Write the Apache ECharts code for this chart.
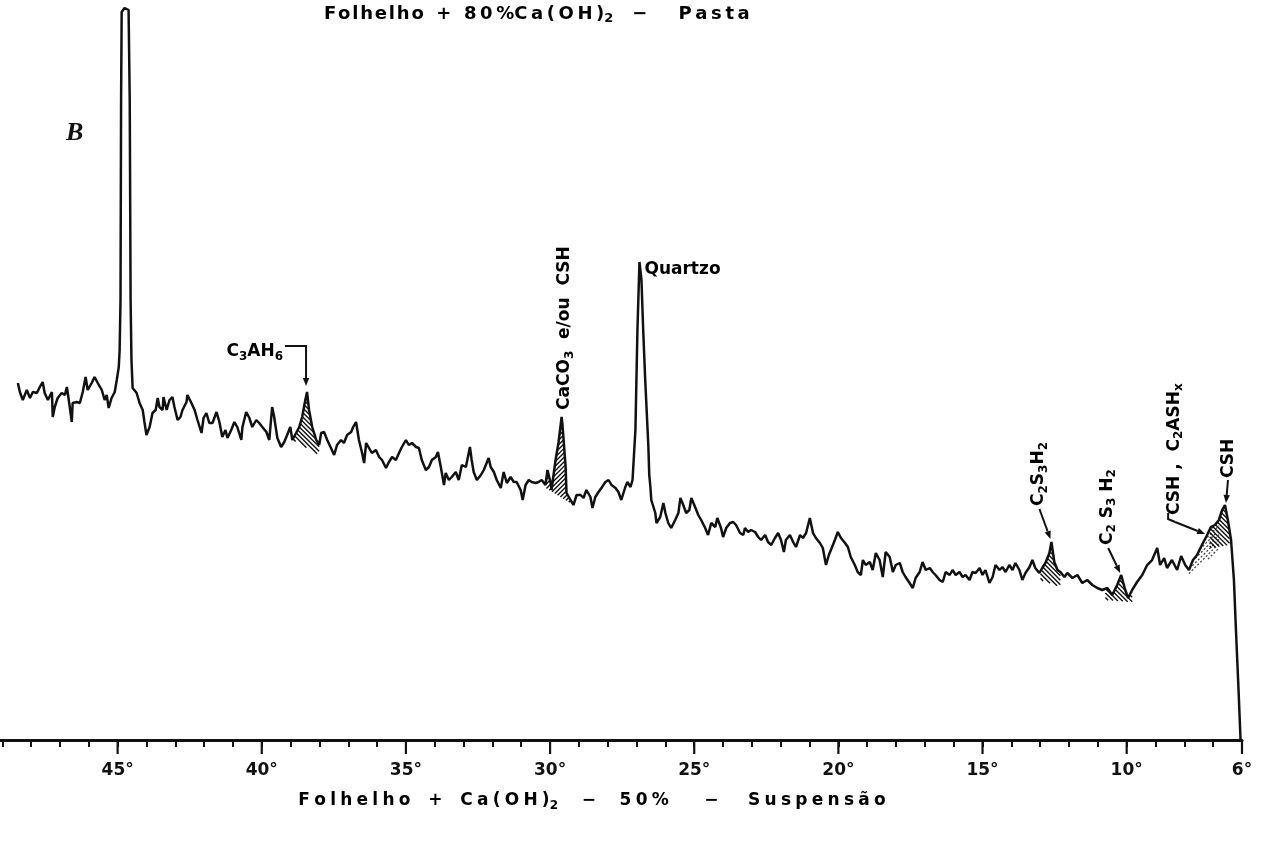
<!DOCTYPE html>
<html>
<head>
<meta charset="utf-8">
<script src="https://cdn.jsdelivr.net/npm/echarts@6/dist/echarts.min.js"></script>
<style>
  html, body { margin: 0; padding: 0; background: #fff; }
  #chart { width: 1267px; height: 844px; }
</style>
</head>
<body>
<div id="chart"></div>
<script>
// X-ray diffractogram, 2θ (degrees) against relative intensity (arbitrary units)
const twoTheta = [
  48.46,48.39,48.29,48.15,48.04,47.94,47.80,47.70,47.60,47.53,47.42,47.28,47.25,47.18,47.08,46.94,46.83,46.76,46.66,46.59,
  46.56,46.42,46.31,46.21,46.11,46.04,45.90,45.80,45.69,45.55,45.45,45.38,45.31,45.21,45.10,45.03,44.96,44.93,44.90,44.88,
  44.86,44.76,44.62,44.58,44.55,44.52,44.48,44.34,44.24,44.13,44.07,44.00,43.89,43.79,43.68,43.61,43.55,43.44,43.41,43.30,
  43.20,43.10,43.03,42.92,42.82,42.75,42.61,42.58,42.44,42.33,42.23,42.09,42.02,41.92,41.82,
  41.71,41.57,41.47,41.37,41.26,41.19,41.06,40.95,40.85,40.71,40.67,40.54,40.43,40.33,40.19,40.09,39.98,39.84,39.74,39.64,
  39.57,39.46,39.33,39.22,39.12,39.01,38.94,38.81,38.70,38.60,38.49,38.43,38.36,38.25,38.11,38.01,37.94,37.84,37.73,37.60,
  37.49,37.39,37.25,37.15,37.04,36.90,36.83,36.73,36.63,36.52,36.45,36.38,36.28,36.18,36.04,35.93,35.83,35.69,35.59,35.48,
  35.35,35.24,35.14,35.00,34.90,34.79,34.65,34.55,34.45,34.31,34.20,
  34.10,33.96,33.89,33.79,33.68,33.62,33.51,33.41,33.27,33.17,33.06,32.92,32.78,32.72,32.65,32.54,32.40,32.30,32.13,32.06,
  31.95,31.85,31.71,31.61,31.50,31.37,31.26,31.16,31.02,30.95,30.85,30.74,30.64,30.50,30.40,30.29,30.16,30.09,29.98,29.95,
  29.81,29.71,29.60,29.57,29.53,29.46,29.43,29.29,29.19,29.08,28.94,28.84,28.74,28.60,28.53,28.43,28.32,28.22,28.08,27.97,
  27.87,27.73,27.63,27.53,27.39,27.32,27.21,27.14,27.04,26.97,26.90,26.83,26.77,26.70,26.59,26.56,26.52,26.49,
  26.35,26.31,26.18,26.07,26.00,25.90,25.80,25.66,25.55,25.48,25.38,25.28,25.17,25.10,24.97,24.86,24.76,24.62,24.52,24.41,
  24.27,24.20,24.07,24.00,23.89,23.76,23.65,23.55,23.41,23.30,23.24,23.13,23.03,22.89,22.78,22.68,22.54,22.44,22.33,22.20,
  22.09,21.99,21.89,21.82,21.68,21.57,21.47,21.33,21.23,21.12,20.99,20.88,20.78,20.64,20.54,20.43,20.33,20.26,20.12,20.02,
  19.91,19.77,19.67,
  19.57,19.43,19.33,19.22,19.15,19.05,18.91,18.81,18.70,18.57,18.46,18.36,18.22,18.11,18.01,17.87,17.77,17.67,17.53,17.42,
  17.32,17.18,17.08,16.97,16.83,16.73,16.63,16.49,16.38,16.28,16.14,16.04,15.93,15.80,15.69,15.59,15.45,15.35,15.24,15.10,
  15.00,14.90,14.76,14.65,14.55,14.41,14.31,14.20,14.07,13.96,13.86,13.72,13.62,13.51,13.37,13.27,13.17,13.03,12.93,12.82,
  12.68,12.61,12.51,12.40,12.30,12.16,12.06,
  11.88,11.71,11.54,11.37,11.19,11.02,10.85,10.67,10.50,10.33,10.19,10.05,9.95,9.81,9.64,9.46,9.29,9.12,8.94,8.84,
  8.70,8.60,8.43,8.25,8.11,7.97,7.84,7.70,7.56,7.39,7.21,7.08,6.94,6.80,6.69,6.59,6.49,6.38,6.28,6.21,
  6.12,6.05
];
const intensity = [
  357,348,340,350,342,348,347,353,358,347,340,348,323,333,342,347,345,353,333,318,
  337,338,337,348,363,350,357,363,357,350,340,345,332,342,348,360,373,390,440,640,
  728,732,730,640,440,380,352,347,337,330,318,305,313,327,330,342,333,330,343,330,
  340,343,333,320,323,330,338,345,337,330,320,307,322,327,317,
  317,328,318,303,310,302,310,318,313,300,313,328,322,313,320,317,313,308,300,333,
  323,302,293,298,305,313,300,307,313,323,340,348,330,313,300,295,307,308,300,292,
  285,295,300,297,305,308,313,318,300,287,277,297,292,287,290,283,280,272,278,283,
  280,287,293,300,295,297,293,292,280,270,273,
  280,283,288,273,255,267,260,263,268,260,275,273,293,280,268,260,265,270,282,273,
  268,260,252,268,257,263,258,258,250,240,255,260,258,257,258,260,255,270,257,250,
  280,297,323,315,300,273,247,240,235,245,245,242,250,243,232,243,248,252,258,260,
  255,252,248,240,253,258,253,260,310,410,478,460,410,360,293,265,253,240,
  227,217,223,237,227,217,212,220,227,242,235,227,230,242,233,225,220,212,205,217,
  213,222,212,203,212,217,218,215,207,205,212,208,210,208,203,200,205,198,195,202,
  207,200,188,200,205,198,193,205,202,207,222,207,202,197,192,175,185,190,200,208,
  202,197,193,
  183,175,168,165,180,175,178,170,187,180,163,188,183,168,175,177,168,163,157,152,
  162,168,178,170,172,168,165,160,158,168,165,170,165,168,163,165,160,168,167,172,
  165,170,157,163,175,170,173,168,175,170,177,170,160,167,173,180,172,167,172,177,
  187,198,178,170,168,163,167,
  162,165,157,160,155,152,150,152,145,155,165,150,142,150,158,165,175,180,192,175,
  182,172,180,170,184,175,170,180,185,195,205,213,215,220,230,235,220,200,160,110,
  50,0
];
const majorTicks = [45, 40, 35, 30, 25, 20, 15, 10, 6];

// Hatched reflection areas: angular span and the intensity of the lower edge at each end
const zoneFrom     = [38.91, 30.15, 12.99, 10.74, 7.84, 7.12];
const zoneTo       = [38.01, 29.25, 12.30,  9.81, 6.80, 6.43];
const zoneBaseFrom = [300,   252,   160,   140,   165,  192];
const zoneBaseTo   = [285,   236,   153,   138,   190,  195];
const zoneSlant    = [1, -1, 1, 1, -1, 1];

// Identified phases: label and the angle / intensity the pointer refers to
const phaseLabels = [
  '{n|C}{s|3}{n|AH}{s|6}',
  '{n|CaCO}{s|3}{n|  e/ou  CSH}',
  '{n|Quartzo}',
  '{n|C}{s|2}{n|S}{s|3}{n|H}{s|2}',
  '{n|C}{s|2}{n| S}{s|3}{n| H}{s|2}',
  '{n|CSH ,  C}{s|2}{n|ASH}{s|x}',
  '{n|CSH}'
];
const phaseAngles = [38.43, 29.60, 26.90, 12.61, 10.19, 7.21, 6.59];
const phaseValues = [348, 323, 478, 198, 165, 205, 235];

const FONT = 'DejaVu Sans';
const INK = '#111';

function richStyle(size) {
  return {
    n: { fontFamily: FONT, fontWeight: 'bold', fontSize: size, lineHeight: 22, verticalAlign: 'middle', color: INK },
    s: { fontFamily: FONT, fontWeight: 'bold', fontSize: Math.round(size * 0.7), lineHeight: 8, verticalAlign: 'bottom', color: INK }
  };
}
function track(str, sep) { return Array.from(str).join(sep); }

function curveAt(t) {
  for (let k = 0; k < twoTheta.length - 1; k++) {
    const a = twoTheta[k], b = twoTheta[k + 1];
    if (t <= a && t >= b) {
      const f = (a - t) / (a - b);
      return intensity[k] + f * (intensity[k + 1] - intensity[k]);
    }
  }
  return 0;
}

// Diagonal hatching clipped to the polygon between the trace and a straight lower edge
function renderHatch(params, api) {
  const i = params.dataIndex;
  const a = zoneFrom[i], b = zoneTo[i];
  const poly = [api.coord([a, curveAt(a)])];
  for (let k = 0; k < twoTheta.length; k++) {
    if (twoTheta[k] < a && twoTheta[k] > b) poly.push(api.coord([twoTheta[k], intensity[k]]));
  }
  poly.push(api.coord([b, curveAt(b)]));
  poly.push(api.coord([b, zoneBaseTo[i]]));
  poly.push(api.coord([a, zoneBaseFrom[i]]));
  const dir = zoneSlant[i];
  const g = p => p[1] - dir * p[0];
  let lo = Infinity, hi = -Infinity;
  poly.forEach(p => { lo = Math.min(lo, g(p)); hi = Math.max(hi, g(p)); });
  const step = 4.5;
  const children = [];
  const stippled = i === 4;
  for (let c = lo + step / 2; c < hi; c += step) {
    const hits = [];
    for (let e = 0; e < poly.length; e++) {
      const P = poly[e], Q = poly[(e + 1) % poly.length];
      const fp = g(P) - c, fq = g(Q) - c;
      if ((fp < 0) !== (fq < 0)) {
        const t = fp / (fp - fq);
        hits.push([P[0] + t * (Q[0] - P[0]), P[1] + t * (Q[1] - P[1])]);
      }
    }
    hits.sort((u, v) => u[0] - v[0]);
    for (let h = 0; h + 1 < hits.length; h += 2) {
      children.push({
        type: 'line',
        shape: { x1: hits[h][0], y1: hits[h][1], x2: hits[h + 1][0], y2: hits[h + 1][1] },
        style: stippled
          ? { stroke: '#444', lineWidth: 1.3, lineDash: [2, 2] }
          : { stroke: INK, lineWidth: 1.4 }
      });
    }
  }
  return { type: 'group', children };
}

function renderMajorTick(params, api) {
  const p = api.coord([api.value(0), 0]);
  return {
    type: 'line',
    shape: { x1: p[0], y1: p[1], x2: p[0], y2: p[1] + 14 },
    style: { stroke: INK, lineWidth: 2.2 }
  };
}

const chart = echarts.init(document.getElementById('chart'));

chart.setOption({
  backgroundColor: '#fff',
  animation: false,
  grid: { left: 0, right: 25, top: 0, bottom: 104, containLabel: false, outerBoundsMode: 'none' },
  xAxis: {
    type: 'value',
    inverse: true,
    min: 6,
    max: 49.08,
    interval: 1,
    axisLine: { lineStyle: { color: INK, width: 3 } },
    axisTick: { length: 7, lineStyle: { color: INK, width: 2 } },
    splitLine: { show: false },
    axisLabel: {
      margin: 22,
      color: INK,
      fontFamily: FONT,
      fontWeight: 'bold',
      fontSize: 17,
      showMaxLabel: false,
      formatter: v => (majorTicks.indexOf(v) >= 0 ? v + '°' : '')
    }
  },
  yAxis: { type: 'value', min: 0, max: 740, show: false },
  series: [
    {
      type: 'line',
      data: twoTheta.map((t, k) => [t, intensity[k]]),
      showSymbol: false,
      symbol: 'none',
      lineStyle: { color: INK, width: 2.5 },
      z: 3
    },
    {
      type: 'custom',
      data: zoneFrom.map((a, i) => [a, zoneBaseFrom[i]]),
      renderItem: renderHatch,
      z: 2
    },
    {
      type: 'custom',
      data: majorTicks.map(v => [v, 0]),
      renderItem: renderMajorTick,
      clip: false,
      z: 4
    }
  ]
});

function px(t, v) { return chart.convertToPixel({ gridIndex: 0 }, [t, v]); }

function arrow(x1, y1, x2, y2) {
  const ang = Math.atan2(y2 - y1, x2 - x1);
  const L = 8, W = 3.2;
  const bx = x2 - L * Math.cos(ang), by = y2 - L * Math.sin(ang);
  const nx = -Math.sin(ang) * W, ny = Math.cos(ang) * W;
  return [
    { type: 'line', shape: { x1, y1, x2: bx, y2: by }, style: { stroke: INK, lineWidth: 2 } },
    { type: 'polygon', shape: { points: [[x2, y2], [bx + nx, by + ny], [bx - nx, by - ny]] }, style: { fill: INK } }
  ];
}

function label(x, y, text, opts) {
  return Object.assign({
    type: 'text', x, y,
    style: { text, rich: richStyle(17), align: 'left', verticalAlign: 'middle' }
  }, opts || {});
}
const UP = Math.PI / 2;

const P = phaseAngles.map((t, i) => px(t, phaseValues[i]));
const els = [];

// C3AH6 with a bent leader
els.push(label(P[0][0] - 24, P[0][1] - 40, phaseLabels[0], { style: { text: phaseLabels[0], rich: richStyle(17), align: 'right', verticalAlign: 'middle' } }));
els.push({ type: 'polyline', shape: { points: [[P[0][0] - 22, P[0][1] - 46], [P[0][0] - 1, P[0][1] - 46], [P[0][0] - 1, P[0][1] - 12]] }, style: { stroke: INK, lineWidth: 2, fill: null } });
els.push(...arrow(P[0][0] - 1, P[0][1] - 14, P[0][0] - 1, P[0][1] - 6));

// CaCO3 e/ou CSH, vertical
els.push(label(P[1][0] + 3, P[1][1] - 7, phaseLabels[1], { rotation: UP }));

// Quartzo
els.push(label(P[2][0] + 5, P[2][1] + 8, phaseLabels[2]));

// C2S3H2 (first)
els.push(label(P[3][0] - 13, P[3][1] - 36, phaseLabels[3], { rotation: UP }));
els.push(...arrow(P[3][0] - 12, P[3][1] - 33, P[3][0] - 1, P[3][1] - 3));

// C2S3H2 (second)
els.push(label(P[4][0] - 14, P[4][1] - 30, phaseLabels[4], { rotation: UP }));
els.push(...arrow(P[4][0] - 13, P[4][1] - 27, P[4][0] - 1, P[4][1] - 2));

// CSH , C2ASHx
els.push(label(P[5][0] - 33, P[5][1] - 20, phaseLabels[5], { rotation: UP }));
els.push({ type: 'polyline', shape: { points: [[P[5][0] - 39, P[5][1] - 22], [P[5][0] - 39, P[5][1] - 16], [P[5][0] - 32, P[5][1] - 13]] }, style: { stroke: INK, lineWidth: 2, fill: null } });
els.push(...arrow(P[5][0] - 32, P[5][1] - 13, P[5][0] - 2, P[5][1] - 1));

// CSH
els.push(label(P[6][0] + 4, P[6][1] - 27, phaseLabels[6], { rotation: UP }));
els.push(...arrow(P[6][0] + 3, P[6][1] - 25, P[6][0] + 1, P[6][1] - 2));

// Panel letter
els.push({ type: 'text', x: 66, y: 133, style: { text: 'B', fontFamily: 'Liberation Serif', fontStyle: 'italic', fontWeight: 'bold', fontSize: 26, fill: INK, align: 'left', verticalAlign: 'middle' } });

// Sample captions
const TS = '\u2009';
const titleText = '{n|' + track('Folhelho', '\u200A') + '  +  ' + track('80%', TS) + track('Ca(OH)', TS) + '}{s|2}{n|   −     ' + track('Pasta', TS) + '}';
els.push({ type: 'text', x: 324, y: 14, style: { text: titleText, rich: richStyle(18), align: 'left', verticalAlign: 'middle' } });

const SP = '\u2005';
const axisCaption = '{n|' + track('Folhelho', SP) + '   +   ' + track('Ca(OH)', SP) + '}{s|2}{n|    −    ' + track('50%', SP) + '      −     ' + track('Suspensão', SP) + '}';
els.push({ type: 'text', x: 592, y: 801, style: { text: axisCaption, rich: richStyle(17), align: 'center', verticalAlign: 'middle' } });

chart.setOption({ graphic: { elements: els } });
</script>
</body>
</html>
